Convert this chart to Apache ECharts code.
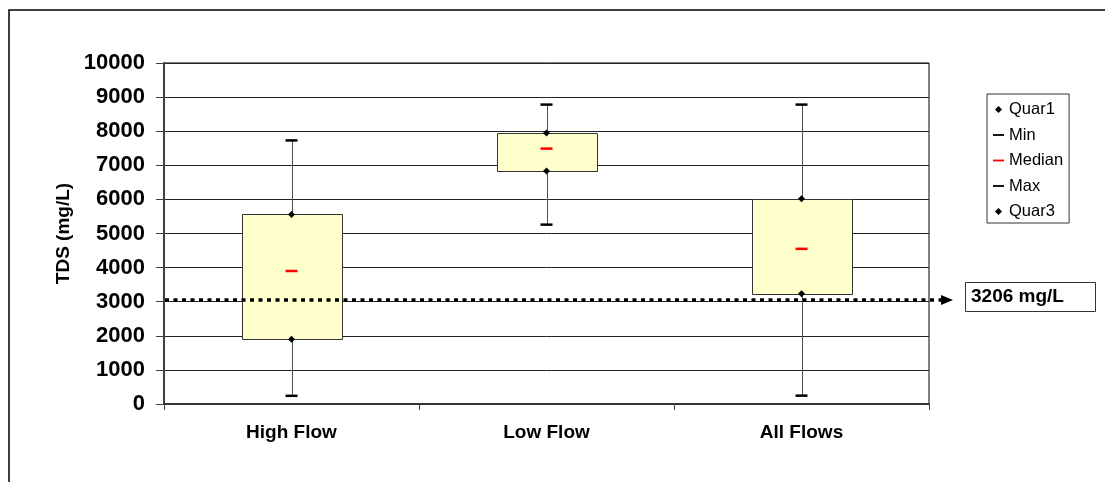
<!DOCTYPE html>
<html>
<head>
<meta charset="utf-8">
<script src="https://cdn.jsdelivr.net/npm/echarts@6/dist/echarts.min.js"></script>
<style>
html,body{margin:0;padding:0;background:#fff;}
#chart{width:1105px;height:482px;}
</style>
</head>
<body>
<div id="chart"></div>
<script>
// ---- data ----
const categories = ['High Flow', 'Low Flow', 'All Flows'];
const minVals    = [240, 5260, 245];
const quar1Vals  = [1900, 6830, 3230];
const medianVals = [3900, 7490, 4550];
const quar3Vals  = [5560, 7950, 6020];
const maxVals    = [7730, 8780, 8780];
const thresholdValue = 3050;
const thresholdLabel = '3206 mg/L';
const yTickMax = 10000;
const yTickStep = 1000;
const yAxisTitle = 'TDS (mg/L)';

// ---- layout / style ----
const FONT = '"Liberation Sans", Arial, sans-serif';
const GRID_LEFT = 164, GRID_RIGHT = 176, GRID_TOP = 63, GRID_BOTTOM = 78;
const W = 1105;
const DIAMOND = 'path://M5,0L10,5L5,10L0,5Z';
const DASH = 'path://M0,0L12,0L12,2L0,2Z';

const chart = echarts.init(document.getElementById('chart'), null, {renderer: 'canvas'});

const boxData = categories.map((c, i) => [i, minVals[i], quar1Vals[i], quar3Vals[i], maxVals[i]]);

function renderBox(params, api) {
  const i = api.value(0);
  const pMin = api.coord([i, api.value(1)]);
  const pQ1 = api.coord([i, api.value(2)]);
  const pQ3 = api.coord([i, api.value(3)]);
  const pMax = api.coord([i, api.value(4)]);
  const bw = api.size([1, 0])[0] * 0.392;
  const cx = Math.round(pMin[0]) + 0.5;
  return {
    type: 'group',
    children: [
      {type: 'line', shape: {x1: cx, y1: pMin[1], x2: cx, y2: pMax[1]}, style: {stroke: '#505050', lineWidth: 1}},
      {type: 'rect', shape: {x: Math.round(pQ3[0] - bw / 2) + 0.5, y: Math.round(pQ3[1]) + 0.5, width: Math.round(bw), height: Math.round(pQ1[1] - pQ3[1])},
       style: {fill: '#FFFFCC', stroke: '#333333', lineWidth: 1}}
    ]
  };
}

function markerSeries(name, values, symbol, size, color) {
  return {
    name: name, type: 'scatter', data: values, symbol: symbol, symbolSize: size,
    itemStyle: {color: color, opacity: 1}, emphasis: {disabled: true}, silent: true, z: 5
  };
}

const option = {
  animation: false,
  backgroundColor: '#ffffff',
  grid: {left: GRID_LEFT, right: GRID_RIGHT, top: GRID_TOP, bottom: GRID_BOTTOM, show: true,
         borderColor: '#000000', borderWidth: 1, backgroundColor: 'transparent'},
  xAxis: {
    type: 'category', data: categories, boundaryGap: true,
    axisLine: {show: true, lineStyle: {color: '#333333', width: 2}},
    axisTick: {show: true, length: 6, lineStyle: {color: '#404040', width: 1}},
    axisLabel: {color: '#000', fontFamily: FONT, fontWeight: 'bold', fontSize: 19, margin: 19},
    splitLine: {show: false}
  },
  yAxis: {
    type: 'value', min: 0, max: yTickMax, interval: yTickStep,
    name: yAxisTitle, nameLocation: 'middle', nameRotate: 90, nameGap: 90,
    nameTextStyle: {color: '#000', fontFamily: FONT, fontWeight: 'bold', fontSize: 19},
    axisLine: {show: true, lineStyle: {color: '#404040', width: 2}},
    axisTick: {show: true, inside: false, length: 8, lineStyle: {color: '#404040', width: 1}},
    axisLabel: {color: '#000', fontFamily: FONT, fontWeight: 'bold', fontSize: 22, margin: 19,
                formatter: function (v) { return String(v); }},
    splitLine: {show: true, lineStyle: {color: '#222222', width: 1}}
  },
  legend: {
    orient: 'vertical', left: 987, top: 94,
    backgroundColor: '#fff', borderColor: '#333', borderWidth: 1, borderRadius: 0,
    padding: [7, 6, 3, 6], itemGap: 8.5, itemWidth: 11, itemHeight: 7,
    symbolKeepAspect: true, selectedMode: false,
    textStyle: {color: '#000', fontFamily: FONT, fontSize: 16.5},
    data: [
      {name: 'Quar1', icon: DIAMOND},
      {name: 'Min', icon: DASH},
      {name: 'Median', icon: DASH},
      {name: 'Max', icon: DASH},
      {name: 'Quar3', icon: DIAMOND}
    ]
  },
  series: [
    {name: 'box', type: 'custom', renderItem: renderBox, data: boxData,
     encode: {x: 0, y: [1, 2, 3, 4]}, silent: true, z: 2},
    markerSeries('Quar1', quar1Vals, DIAMOND, 7, '#000000'),
    markerSeries('Min', minVals, DASH, [12, 2.5], '#000000'),
    markerSeries('Median', medianVals, DASH, [12, 2.5], '#FF0000'),
    markerSeries('Max', maxVals, DASH, [12, 2.5], '#000000'),
    markerSeries('Quar3', quar3Vals, DIAMOND, 7, '#000000')
  ]
};

chart.setOption(option);

// threshold line, arrow and annotation, positioned through the y axis scale
const ty = Math.round(chart.convertToPixel({yAxisIndex: 0}, thresholdValue));
const plotRight = W - GRID_RIGHT;
const lineEnd = plotRight + 12;
const boxLeft = plotRight + 36;

chart.setOption({
  graphic: [
    {type: 'rect', z: 100, silent: true, shape: {x: 9, y: 10, width: 1200, height: 600},
     style: {fill: 'none', stroke: '#000', lineWidth: 1.5}},
    {type: 'line', z: 100, silent: true, shape: {x1: GRID_LEFT + 1, y1: ty, x2: lineEnd, y2: ty},
     style: {stroke: '#000', lineWidth: 3.5, lineDash: [4, 4.5]}},
    {type: 'polygon', z: 100, silent: true,
     shape: {points: [[lineEnd, ty - 5], [lineEnd + 12, ty], [lineEnd, ty + 5]]},
     style: {fill: '#000'}},
    {type: 'rect', z: 100, silent: true, shape: {x: boxLeft + 0.5, y: ty - 17.5, width: 130, height: 29},
     style: {fill: '#fff', stroke: '#333', lineWidth: 1}},
    {type: 'text', z: 101, silent: true, x: boxLeft + 6, y: ty - 3,
     style: {text: thresholdLabel, font: 'bold 19px ' + FONT, fill: '#000', verticalAlign: 'middle', align: 'left'}}
  ]
});
</script>
</body>
</html>
